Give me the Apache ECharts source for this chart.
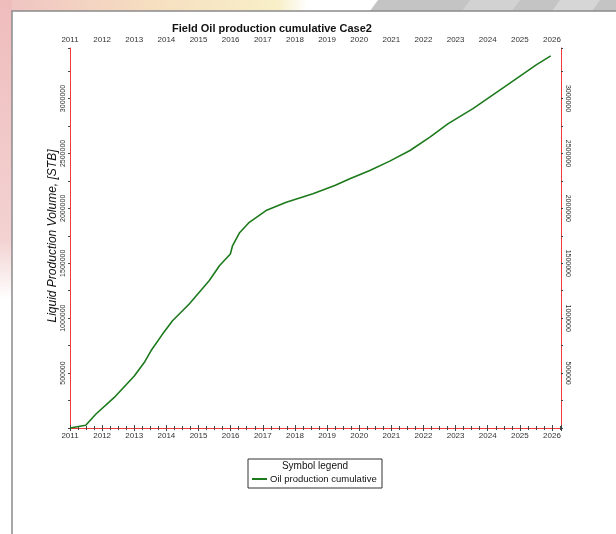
<!DOCTYPE html>
<html>
<head>
<meta charset="utf-8">
<script src="https://cdn.jsdelivr.net/npm/echarts@6/dist/echarts.min.js"></script>
<style>
html,body{margin:0;padding:0;background:#fff;}
#c{width:616px;height:534px;}
</style>
</head>
<body>
<div id="c"></div>
<script>
// Data
var years = [2011.0, 2011.49, 2011.80, 2012.37, 2013.0, 2013.31, 2013.52, 2013.88, 2014.19, 2014.71, 2015.33, 2015.65, 2015.99, 2016.06, 2016.27, 2016.58, 2017.10, 2017.73, 2018.56, 2019.24, 2019.71, 2020.33, 2020.95, 2021.58, 2022.20, 2022.77, 2023.54, 2024.59, 2025.52, 2025.96];
var oilCum = [0, 25000, 125000, 276000, 474000, 596000, 703000, 855000, 976000, 1129000, 1341000, 1478000, 1585000, 1661000, 1775000, 1873000, 1980000, 2056000, 2132000, 2208000, 2269000, 2345000, 2430000, 2527000, 2649000, 2771000, 2908000, 3120000, 3309000, 3388000];
var seriesName = 'Oil production cumulative';
var chartTitle = 'Field Oil production cumulative Case2';
var yTitle = 'Liquid Production Volume, [STB]';
var legendTitle = 'Symbol legend';

var pts = years.map(function (y, i) { return [y, oilCum[i]]; });
var red = '#f03a3a';
var font = 'Liberation Sans, Arial, sans-serif';

function xAxisCfg(pos) {
  return {
    type: 'value', position: pos, min: 2011, max: 2026.28, interval: 1,
    axisLine: { show: true, lineStyle: { color: red, width: 1 } },
    axisTick: { show: true, inside: false, length: 3, lineStyle: { color: '#444' } },
    minorTick: { show: true, splitNumber: 4, length: 2, lineStyle: { color: '#444' } },
    splitLine: { show: false },
    axisLabel: { show: true, fontSize: 8, fontFamily: font, color: '#333', margin: 4,
      showMaxLabel: false, formatter: function (v) { return String(Math.round(v)); } }
  };
}
function yAxisCfg(pos, rot) {
  return {
    type: 'value', position: pos, min: 0, max: 3460000, interval: 500000,
    axisLine: { show: true, lineStyle: { color: red, width: 1 } },
    axisTick: { show: true, inside: false, length: 2, lineStyle: { color: '#444' } },
    minorTick: { show: true, splitNumber: 2, length: 2, lineStyle: { color: '#444' } },
    splitLine: { show: false },
    axisLabel: { show: true, rotate: rot, fontSize: 7, fontFamily: font, color: '#333', margin: 3,
      showMinLabel: false, showMaxLabel: false,
      formatter: function (v) { return String(Math.round(v)); } }
  };
}

var chart = echarts.init(document.getElementById('c'), null, { renderer: 'canvas' });
chart.setOption({
  animation: false,
  backgroundColor: '#ffffff',
  title: {
    text: chartTitle, left: 267, top: 18, textAlign: 'center',
    textStyle: { fontSize: 11, fontWeight: 'bold', fontFamily: font, color: '#111' }
  },
  grid: { left: 70, right: 55, top: 48, bottom: 106, containLabel: false },
  xAxis: [xAxisCfg('bottom'), xAxisCfg('top')],
  yAxis: [yAxisCfg('left', 90), yAxisCfg('right', -90)],
  legend: {
    left: 252, top: 474, itemWidth: 15, itemHeight: 2, itemGap: 4, padding: 0,
    icon: 'rect',
    textStyle: { fontSize: 9.5, fontFamily: font, color: '#111', padding: [0, 0, 0, -2] },
    data: [{ name: seriesName, icon: 'rect' }]
  },
  graphic: [
    // slide decorations
    { type: 'rect', z: -10, shape: { x: 0, y: 0, width: 616, height: 11 },
      style: { fill: new echarts.graphic.LinearGradient(0, 0, 1, 0, [
        { offset: 0, color: '#efc3c3' }, { offset: 0.25, color: '#f6dfc0' },
        { offset: 0.45, color: '#f8efc8' }, { offset: 0.5, color: '#ffffff' }, { offset: 1, color: '#ffffff' }]) } },
    { type: 'polygon', z: -9, shape: { points: [[378, 0], [616, 0], [616, 11], [370, 11]] }, style: { fill: '#c4c4c4' } },
    { type: 'polygon', z: -8, shape: { points: [[470, 0], [520, 0], [512, 11], [462, 11]] }, style: { fill: '#d2d2d2' } },
    { type: 'polygon', z: -8, shape: { points: [[560, 0], [600, 0], [592, 11], [552, 11]] }, style: { fill: '#d6d6d6' } },
    { type: 'rect', z: -10, shape: { x: 0, y: 0, width: 12, height: 534 }, style: { fill: '#ffffff' } },
    { type: 'rect', z: -9, shape: { x: 0, y: 0, width: 12, height: 300 },
      style: { fill: new echarts.graphic.LinearGradient(0, 0, 0, 1, [
        { offset: 0, color: '#efbcbc' }, { offset: 0.8, color: '#f3d2d2' }, { offset: 1, color: '#ffffff' }]) } },
    { type: 'polyline', z: -7, shape: { points: [[12, 534], [12, 11], [616, 11]] },
      style: { stroke: '#8a8a8a', lineWidth: 1.5, fill: null } },
    // y axis title
    { type: 'text', x: 53, y: 236, rotation: Math.PI / 2,
      style: { text: yTitle, fontSize: 12, fontStyle: 'italic', fontFamily: font, fill: '#111',
        textAlign: 'center', textVerticalAlign: 'middle' } },
    // legend box
    { type: 'rect', shape: { x: 248, y: 459, width: 134, height: 29 },
      style: { fill: '#ffffff', stroke: '#333', lineWidth: 1 }, z: 1 },
    { type: 'text', x: 315, y: 466,
      style: { text: legendTitle, fontSize: 10, fontFamily: font, fill: '#111',
        textAlign: 'center', textVerticalAlign: 'middle' }, z: 2 }
  ],
  series: [{
    name: seriesName, type: 'line', data: pts, showSymbol: false, smooth: false,
    lineStyle: { color: '#1c7a1c', width: 1.6 }, itemStyle: { color: '#1c7a1c' }, z: 5
  }]
});
</script>
</body>
</html>
